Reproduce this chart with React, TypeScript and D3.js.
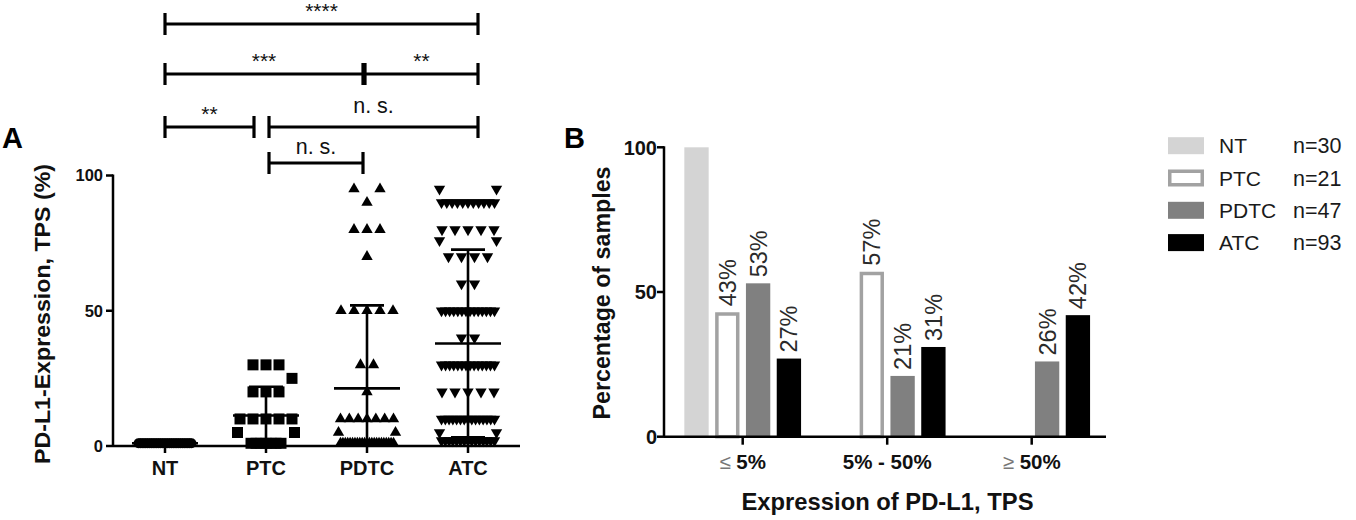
import React from 'react';
import * as d3 from 'd3';

// ---------------- DATA ----------------
const categories = ['NT', 'PTC', 'PDTC', 'ATC'];

const ntValues = [
  1, 1, 1, 1, 1, 1, 1, 1, 1, 1, 1, 1, 1, 1, 1,
  1, 1, 1, 1, 1, 1, 1, 1, 1, 1, 1, 1, 1, 1, 1,
];
const ptcValues = [
  30, 30, 30, 25, 20, 20, 20, 10, 10, 10, 10, 10, 5, 5,
  1, 1, 1, 1, 1, 1, 1,
];
const pdtcValues = [
  95, 95, 90, 80, 80, 80, 70, 50, 50, 50, 50, 50, 30, 30, 20,
  10, 10, 10, 10, 10, 10, 10, 5, 5,
  1, 1, 1, 1, 1, 1, 1, 1, 1, 1, 1, 1, 1, 1, 1, 1, 1, 1, 1, 1, 1, 1, 1,
];
const atcValues = [
  95, 95,
  90, 90, 90, 90, 90, 90, 90, 90, 90, 90, 90,
  80, 80, 80, 80, 80, 76, 76, 70, 70, 70, 70, 60, 60,
  50, 50, 50, 50, 50, 50, 50, 50, 50, 50, 50, 50, 50, 50,
  40, 40,
  30, 30, 30, 30, 30, 30, 30, 30, 30, 30, 30, 30, 30, 30,
  20, 20, 20, 20, 20,
  10, 10, 10, 10, 10, 10, 10, 10, 10, 10, 10, 10, 10, 10, 10,
  5, 5,
  2, 2, 2, 2, 2, 2, 2, 2, 2, 2, 2, 2, 2, 2, 2,
];
// mean and SD as drawn in the picture
const meanValues = [1, 11.3, 21.3, 37.9];
const sdValues = [0, 10.6, 30.7, 34.7];

const yTicksA = [0, 50, 100];

const significance = [
  { from: 'NT', to: 'ATC', label: '****', level: 0 },
  { from: 'NT', to: 'PDTC', label: '***', level: 1 },
  { from: 'PDTC', to: 'ATC', label: '**', level: 1 },
  { from: 'NT', to: 'PTC', label: '**', level: 2 },
  { from: 'PTC', to: 'ATC', label: 'n. s.', level: 2 },
  { from: 'PTC', to: 'PDTC', label: 'n. s.', level: 3 },
];

const tpsGroups = ['≤', '5% - 50%', '≥'];
const tpsGroupTail = [' 5%', '', ' 50%'];
const series = ['NT', 'PTC', 'PDTC', 'ATC'];
const ntPct = [100, 0, 0];
const ptcPct = [43, 57, 0];
const pdtcPct = [53, 21, 26];
const atcPct = [27, 31, 42];
const sampleSizes = ['n=30', 'n=21', 'n=47', 'n=93'];
const yTicksB = [0, 50, 100];

// ---------------- LAYOUT / STYLE ----------------
const FONT = 'Arial, "Liberation Sans", Helvetica, sans-serif';
const W = 1356;
const H = 520;

const xA = d3.scalePoint<string>().domain(categories).range([165, 468]);
const yA = d3.scaleLinear().domain([0, 100]).range([446, 175.5]);
const axisAX = 113;
const axisAEnd = 520;

const groupValues = [ntValues, ptcValues, pdtcValues, atcValues];

const symbolFor = [
  d3.symbol().type(d3.symbolCircle).size(80)(),
  d3.symbol().type(d3.symbolSquare).size(121)(),
  d3.symbol().type(d3.symbolTriangle).size(56)(),
  d3.symbol().type(d3.symbolTriangle).size(56)(),
];
const symbolRotate = [0, 0, 0, 180];

type Pt = { x: number; y: number };

function layoutGroup(values: number[], cx: number): Pt[] {
  const PITCH = 13;
  const WMAX = 53;
  const TIGHT = 5;
  const CY = 14;
  const CLAMP = 28.5;
  const rows = d3.rollups(values, (v) => v.length, (v) => v);
  const minV = d3.min(values) ?? 0;
  const rank = (n: number) => (n >= 3 ? 0 : n === 1 ? 1 : 2);
  rows.sort((a, b) => rank(a[1]) - rank(b[1]) || b[1] - a[1] || a[0] - b[0]);
  const placed: { dx: number; py: number }[] = [];
  const out: Pt[] = [];
  for (const [v, n] of rows) {
    const py = yA(v);
    const base = v === minV && v < 3 && n > 3 ? TIGHT : PITCH;
    const sp = n > 1 ? Math.min(base, WMAX / (n - 1)) : 0;
    let offs = d3.range(n).map((i) => (i - (n - 1) / 2) * sp);
    const coll = placed.filter((p) => Math.abs(p.py - py) < CY);
    const hit = offs.some((o) => coll.some((p) => Math.abs(p.dx - o) < 11));
    if (hit) {
      const E = d3.max(coll, (p) => Math.abs(p.dx)) ?? 0;
      const d = Math.min(E + PITCH, CLAMP);
      if (n === 1) offs = [d];
      else
        offs = d3.range(n).map((i) => {
          const k = Math.floor(i / 2);
          return (i % 2 === 0 ? -1 : 1) * (d + k * PITCH);
        });
    }
    offs.forEach((o) => {
      placed.push({ dx: o, py });
      out.push({ x: cx + o, y: py });
    });
  }
  return out;
}

const bracketLevelY = [24, 74, 127, 163];
const startNudge: Record<string, number> = { NT: 0, PTC: 3, PDTC: -2, ATC: 0 };
const endNudge: Record<string, number> = { NT: 0, PTC: -12, PDTC: -4, ATC: 10 };
const labelLift: Record<string, number[]> = {
  stars: [6, 6, 6, 6],
  ns: [10, 10, 14, 9],
};

// Panel B
const xB0 = d3.scalePoint<string>().domain(tpsGroups).range([742.7, 1031.7]);
const xB1 = d3
  .scaleBand<string>()
  .domain(series)
  .range([-61.6, 61.6])
  .paddingInner(0.21)
  .paddingOuter(0.105);
const yB = d3.scaleLinear().domain([0, 100]).range([436.7, 147.3]);
const axisBX = 664;
const axisBEnd = 1106;
const pctSeries = [ntPct, ptcPct, pdtcPct, atcPct];
const seriesFill = ['#d4d4d4', '#ffffff', '#808080', '#000000'];
const seriesStroke = ['none', '#a2a2a2', 'none', 'none'];
const PTC_STROKE = 3.5;

export default function App() {
  const pointsA = groupValues.map((vals, gi) => layoutGroup(vals, xA(categories[gi])!));

  return (
    <svg
      width={W}
      height={H}
      viewBox={`0 0 ${W} ${H}`}
      style={{ position: 'absolute', left: 0, top: 0, background: '#fff' }}
      fontFamily={FONT}
    >
      <rect x={0} y={0} width={W} height={H} fill="#fff" />

      {/* ---------------- Panel A ---------------- */}
      <text x={2} y={148} fontSize={29} fontWeight="bold" fill="#000">A</text>

      {/* significance brackets */}
      {significance.map((s, i) => {
        const x1 = xA(s.from)! + startNudge[s.from];
        const x2 = xA(s.to)! + endNudge[s.to];
        const y = bracketLevelY[s.level];
        const isNs = s.label.startsWith('n');
        const lift = isNs ? labelLift.ns[s.level] : labelLift.stars[s.level];
        return (
          <g key={i} stroke="#000" strokeWidth={3.2}>
            <line x1={x1} x2={x2} y1={y} y2={y} />
            <line x1={x1} x2={x1} y1={y - 11} y2={y + 11} />
            <line x1={x2} x2={x2} y1={y - 11} y2={y + 11} />
            <text
              x={(x1 + x2) / 2}
              y={y - lift}
              textAnchor="middle"
              fontSize={isNs ? 21.5 : 21}
              stroke="none"
              fill="#111"
            >
              {s.label}
            </text>
          </g>
        );
      })}

      {/* points */}
      {pointsA.map((pts, gi) => (
        <g key={gi} fill="#000">
          {pts.map((p, j) => (
            <path
              key={j}
              d={symbolFor[gi] ?? ''}
              transform={`translate(${p.x},${p.y}) rotate(${symbolRotate[gi]})`}
            />
          ))}
        </g>
      ))}

      {/* mean +/- SD */}
      {categories.map((c, i) => {
        const cx = xA(c)!;
        const m = meanValues[i];
        const sd = sdValues[i];
        const lo = Math.max(0, m - sd);
        const hi = m + sd;
        return (
          <g key={c} stroke="#000" strokeWidth={2.6}>
            <line x1={cx} x2={cx} y1={yA(lo)} y2={yA(hi)} />
            <line x1={cx - 33} x2={cx + 33} y1={yA(m)} y2={yA(m)} />
            <line x1={cx - 17} x2={cx + 17} y1={yA(hi)} y2={yA(hi)} />
            {m - sd > 0 && <line x1={cx - 17} x2={cx + 17} y1={yA(lo)} y2={yA(lo)} />}
          </g>
        );
      })}

      {/* axes A */}
      <g stroke="#000" strokeWidth={2.5}>
        <line x1={axisAX} x2={axisAX} y1={yA(100) - 1} y2={yA(0)} />
        <line x1={axisAX} x2={axisAEnd} y1={yA(0)} y2={yA(0)} />
        {yTicksA.map((t) => (
          <line key={t} x1={axisAX - 7} x2={axisAX} y1={yA(t)} y2={yA(t)} />
        ))}
        {categories.map((c) => (
          <line key={c} x1={xA(c)!} x2={xA(c)!} y1={yA(0)} y2={yA(0) + 7} />
        ))}
      </g>
      {yTicksA.map((t) => (
        <text
          key={t}
          x={axisAX - 10}
          y={yA(t)}
          dy="0.36em"
          textAnchor="end"
          fontSize={16.5}
          fontWeight="bold"
          fill="#111"
        >
          {t}
        </text>
      ))}
      {categories.map((c) => (
        <text
          key={c}
          x={xA(c)!}
          y={475}
          textAnchor="middle"
          fontSize={20}
          fontWeight="bold"
          fill="#111"
        >
          {c}
        </text>
      ))}
      <text
        transform="translate(42.5,314) rotate(-90)"
        textAnchor="middle"
        dy="0.35em"
        fontSize={22}
        fontWeight="bold"
        fill="#111"
        textLength={300}
        lengthAdjust="spacingAndGlyphs"
      >
        PD-L1-Expression, TPS (%)
      </text>

      {/* ---------------- Panel B ---------------- */}
      <text x={564} y={148} fontSize={29} fontWeight="bold" fill="#000">B</text>

      {tpsGroups.map((g, gi) => (
        <g key={g} transform={`translate(${xB0(g)},0)`}>
          {series.map((s, si) => {
            const v = pctSeries[si][gi];
            if (!v) return null;
            const bx = xB1(s)!;
            const bw = xB1.bandwidth();
            const inset = seriesStroke[si] !== 'none' ? PTC_STROKE / 2 : 0;
            const top = yB(v);
            return (
              <g key={s}>
                <rect
                  x={bx + inset}
                  y={top + inset}
                  width={bw - 2 * inset}
                  height={yB(0) - top - inset}
                  fill={seriesFill[si]}
                  stroke={seriesStroke[si]}
                  strokeWidth={inset ? PTC_STROKE : 0}
                />
                {si > 0 && (
                  <text
                    transform={`translate(${bx + bw / 2},${top - 6}) rotate(-90)`}
                    dy="0.36em"
                    textAnchor="start"
                    fontSize={23.5}
                    fill="#2a2a2a"
                  >
                    {`${v}%`}
                  </text>
                )}
              </g>
            );
          })}
        </g>
      ))}

      {/* axes B */}
      <g stroke="#000" strokeWidth={2.5}>
        <line x1={axisBX} x2={axisBX} y1={yB(100) - 1} y2={yB(0)} />
        <line x1={axisBX} x2={axisBEnd} y1={yB(0)} y2={yB(0)} />
        {yTicksB.map((t) => (
          <line key={t} x1={axisBX - 7} x2={axisBX} y1={yB(t)} y2={yB(t)} />
        ))}
        {tpsGroups.map((g) => (
          <line key={g} x1={xB0(g)!} x2={xB0(g)!} y1={yB(0)} y2={yB(0) + 8} />
        ))}
      </g>
      {yTicksB.map((t) => (
        <text
          key={t}
          x={axisBX - 7}
          y={yB(t)}
          dy="0.36em"
          textAnchor="end"
          fontSize={20}
          fontWeight="bold"
          fill="#111"
        >
          {t}
        </text>
      ))}
      {tpsGroups.map((g, gi) => {
        const isSym = g === '≤' || g === '≥';
        return (
          <text
            key={g}
            x={xB0(g)!}
            y={469}
            textAnchor="middle"
            fontSize={20.5}
            fontWeight="bold"
            fill="#111"
          >
            {isSym ? (
              <>
                <tspan fontWeight="normal" fill="#777">{g}</tspan>
                <tspan>{tpsGroupTail[gi]}</tspan>
              </>
            ) : (
              g
            )}
          </text>
        );
      })}
      <text
        x={887.5}
        y={510}
        textAnchor="middle"
        fontSize={24}
        fontWeight="bold"
        fill="#111"
        textLength={292}
        lengthAdjust="spacingAndGlyphs"
      >
        Expression of PD-L1, TPS
      </text>
      <text
        transform="translate(602,293) rotate(-90)"
        textAnchor="middle"
        dy="0.35em"
        fontSize={23}
        fontWeight="bold"
        fill="#111"
        textLength={253}
        lengthAdjust="spacingAndGlyphs"
      >
        Percentage of samples
      </text>

      {/* legend */}
      {series.map((s, si) => {
        const cy = 145.7 + si * 32.3;
        const inset = seriesStroke[si] !== 'none' ? PTC_STROKE / 2 : 0;
        return (
          <g key={s}>
            <rect
              x={1168 + inset}
              y={cy - 8.5 + inset}
              width={36 - 2 * inset}
              height={17 - 2 * inset}
              fill={seriesFill[si]}
              stroke={seriesStroke[si]}
              strokeWidth={inset ? PTC_STROKE : 0}
            />
            <text x={1219} y={cy} dy="0.36em" fontSize={21} fill="#1a1a1a">
              {s}
            </text>
            <text x={1293} y={cy} dy="0.36em" fontSize={21.5} fill="#1a1a1a">
              {sampleSizes[si]}
            </text>
          </g>
        );
      })}
    </svg>
  );
}
